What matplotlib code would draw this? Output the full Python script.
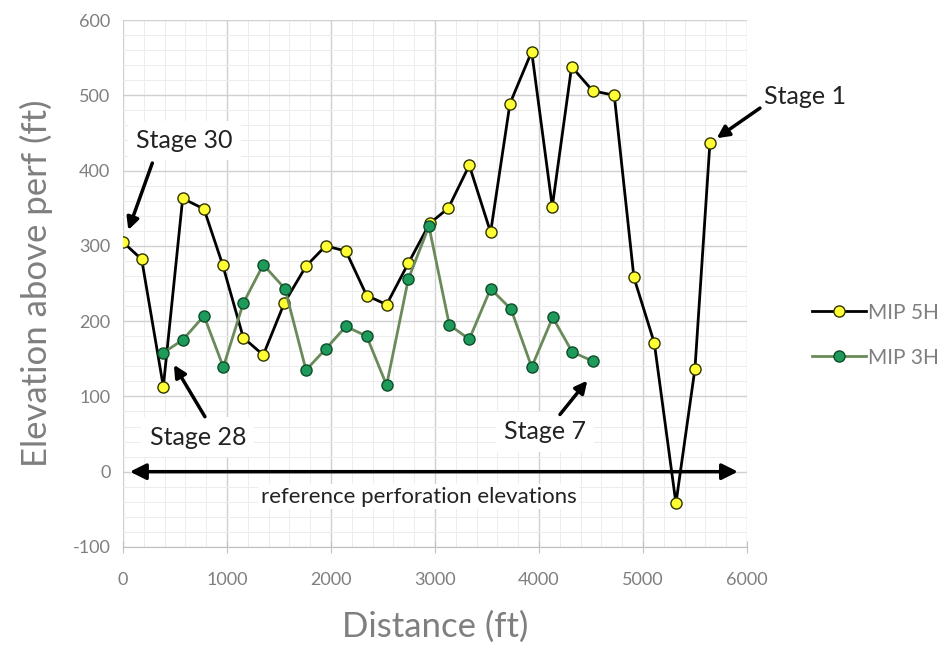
import matplotlib
matplotlib.use("Agg")
import matplotlib.pyplot as plt
from matplotlib.ticker import MultipleLocator

plt.rcParams['font.family'] = ['Lato', 'DejaVu Sans']
plt.rcParams['axes.unicode_minus'] = False

# MIP 5H (stages 30 -> 1)
x_5h = [0, 180, 388, 574, 779, 958, 1157, 1349, 1551, 1760, 1949, 2144, 2343, 2535, 2744,
        2950, 3128, 3330, 3535, 3721, 3930, 4128, 4314, 4516, 4724, 4913, 5109, 5317, 5500, 5644]
y_5h = [305, 282, 113, 363, 349, 275, 178, 155, 224, 273, 300, 293, 234, 222, 277,
        330, 350, 407, 318, 489, 558, 352, 538, 506, 500, 258, 171, -42, 137, 437]

# MIP 3H (stages 28 -> 7)
x_3h = [388, 574, 779, 965, 1157, 1349, 1558, 1760, 1949, 2144, 2343, 2535, 2744, 2942,
        3138, 3330, 3535, 3731, 3930, 4132, 4320, 4516]
y_3h = [158, 175, 207, 139, 224, 275, 243, 135, 163, 193, 180, 115, 256, 326,
        195, 176, 243, 216, 139, 205, 159, 147]

x_ticks = [0, 1000, 2000, 3000, 4000, 5000, 6000]
y_ticks = [-100, 0, 100, 200, 300, 400, 500, 600]

fig = plt.figure(figsize=(9.46, 6.46), dpi=100)
ax = fig.add_axes([0.130, 0.1533, 0.6596, 0.8157])

gray = '#7f7f7f'
ax.set_xlim(0, 6000)
ax.set_ylim(-100, 600)
ax.set_xticks(x_ticks)
ax.set_yticks(y_ticks)
ax.xaxis.set_minor_locator(MultipleLocator(200))
ax.yaxis.set_minor_locator(MultipleLocator(20))
ax.grid(which='major', color='#d0d0d0', linewidth=1.0)
ax.grid(which='minor', color='#ececec', linewidth=0.7)
ax.set_axisbelow(True)
for s in ['top', 'right', 'left']:
    ax.spines[s].set_visible(False)
ax.spines['bottom'].set_color('#bfbfbf')
ax.tick_params(axis='both', which='both', length=0, labelsize=13, labelcolor=gray, pad=9)
ax.tick_params(axis='x', which='major', length=8, color='#bfbfbf', direction='inout', pad=14)

ax.plot(x_5h, y_5h, color='black', linewidth=2, marker='o', markersize=8,
        markerfacecolor='#ffff33', markeredgecolor='#333300', markeredgewidth=1.0,
        label='MIP 5H', zorder=3)
ax.plot(x_3h, y_3h, color='#6a8a5a', linewidth=2, marker='o', markersize=8,
        markerfacecolor='#1e9a5a', markeredgecolor='#0d4d2a', markeredgewidth=1.0,
        label='MIP 3H', zorder=4)

# reference arrow
ax.annotate('', xy=(5913, 0), xytext=(67, 0),
            arrowprops=dict(arrowstyle='<|-|>', color='black', lw=2.5,
                            mutation_scale=24, shrinkA=0, shrinkB=0), zorder=2)
ax.text(2846, -33, 'reference perforation elevations', fontsize=16, color='#222222',
        ha='center', va='center', zorder=1,
        bbox=dict(facecolor='white', edgecolor='none', pad=2))

box = dict(facecolor='white', edgecolor='none', pad=6)
arrow_kw = dict(arrowstyle='-|>', color='black', lw=2.5, mutation_scale=18,
                shrinkA=0, shrinkB=0)
ax.text(587, 440, 'Stage 30', fontsize=18, color='#222222', ha='center', va='center',
        bbox=box, zorder=1)
ax.annotate('', xy=(51, 321), xytext=(282, 410), arrowprops=arrow_kw, zorder=5)
ax.text(720, 46, 'Stage 28', fontsize=18, color='#222222', ha='center', va='center',
        bbox=box, zorder=1)
ax.annotate('', xy=(490, 142), xytext=(788, 73), arrowprops=arrow_kw, zorder=5)
ax.text(4058, 53, 'Stage 7', fontsize=18, color='#222222', ha='center', va='center',
        bbox=box, zorder=1)
ax.annotate('', xy=(4465, 121), xytext=(4202, 76), arrowprops=arrow_kw, zorder=5)
ax.annotate('', xy=(5709, 443), xytext=(6125, 483), arrowprops=arrow_kw,
            annotation_clip=False, zorder=5)
ax.text(6558, 498, 'Stage 1', fontsize=18, color='#222222', ha='center', va='center',
        clip_on=False)

ax.set_xlabel('Distance (ft)', fontsize=25, color=gray, labelpad=16)
ax.set_ylabel('Elevation above perf (ft)', fontsize=25, color=gray, labelpad=14)

leg = fig.legend(loc='center left', bbox_to_anchor=(0.858, 0.481), frameon=False,
                 fontsize=15, handlelength=2.6, handletextpad=0.1, labelspacing=1.2,
                 borderpad=0, borderaxespad=0)
for t in leg.get_texts():
    t.set_color(gray)

fig.savefig('out.png', dpi=100)
